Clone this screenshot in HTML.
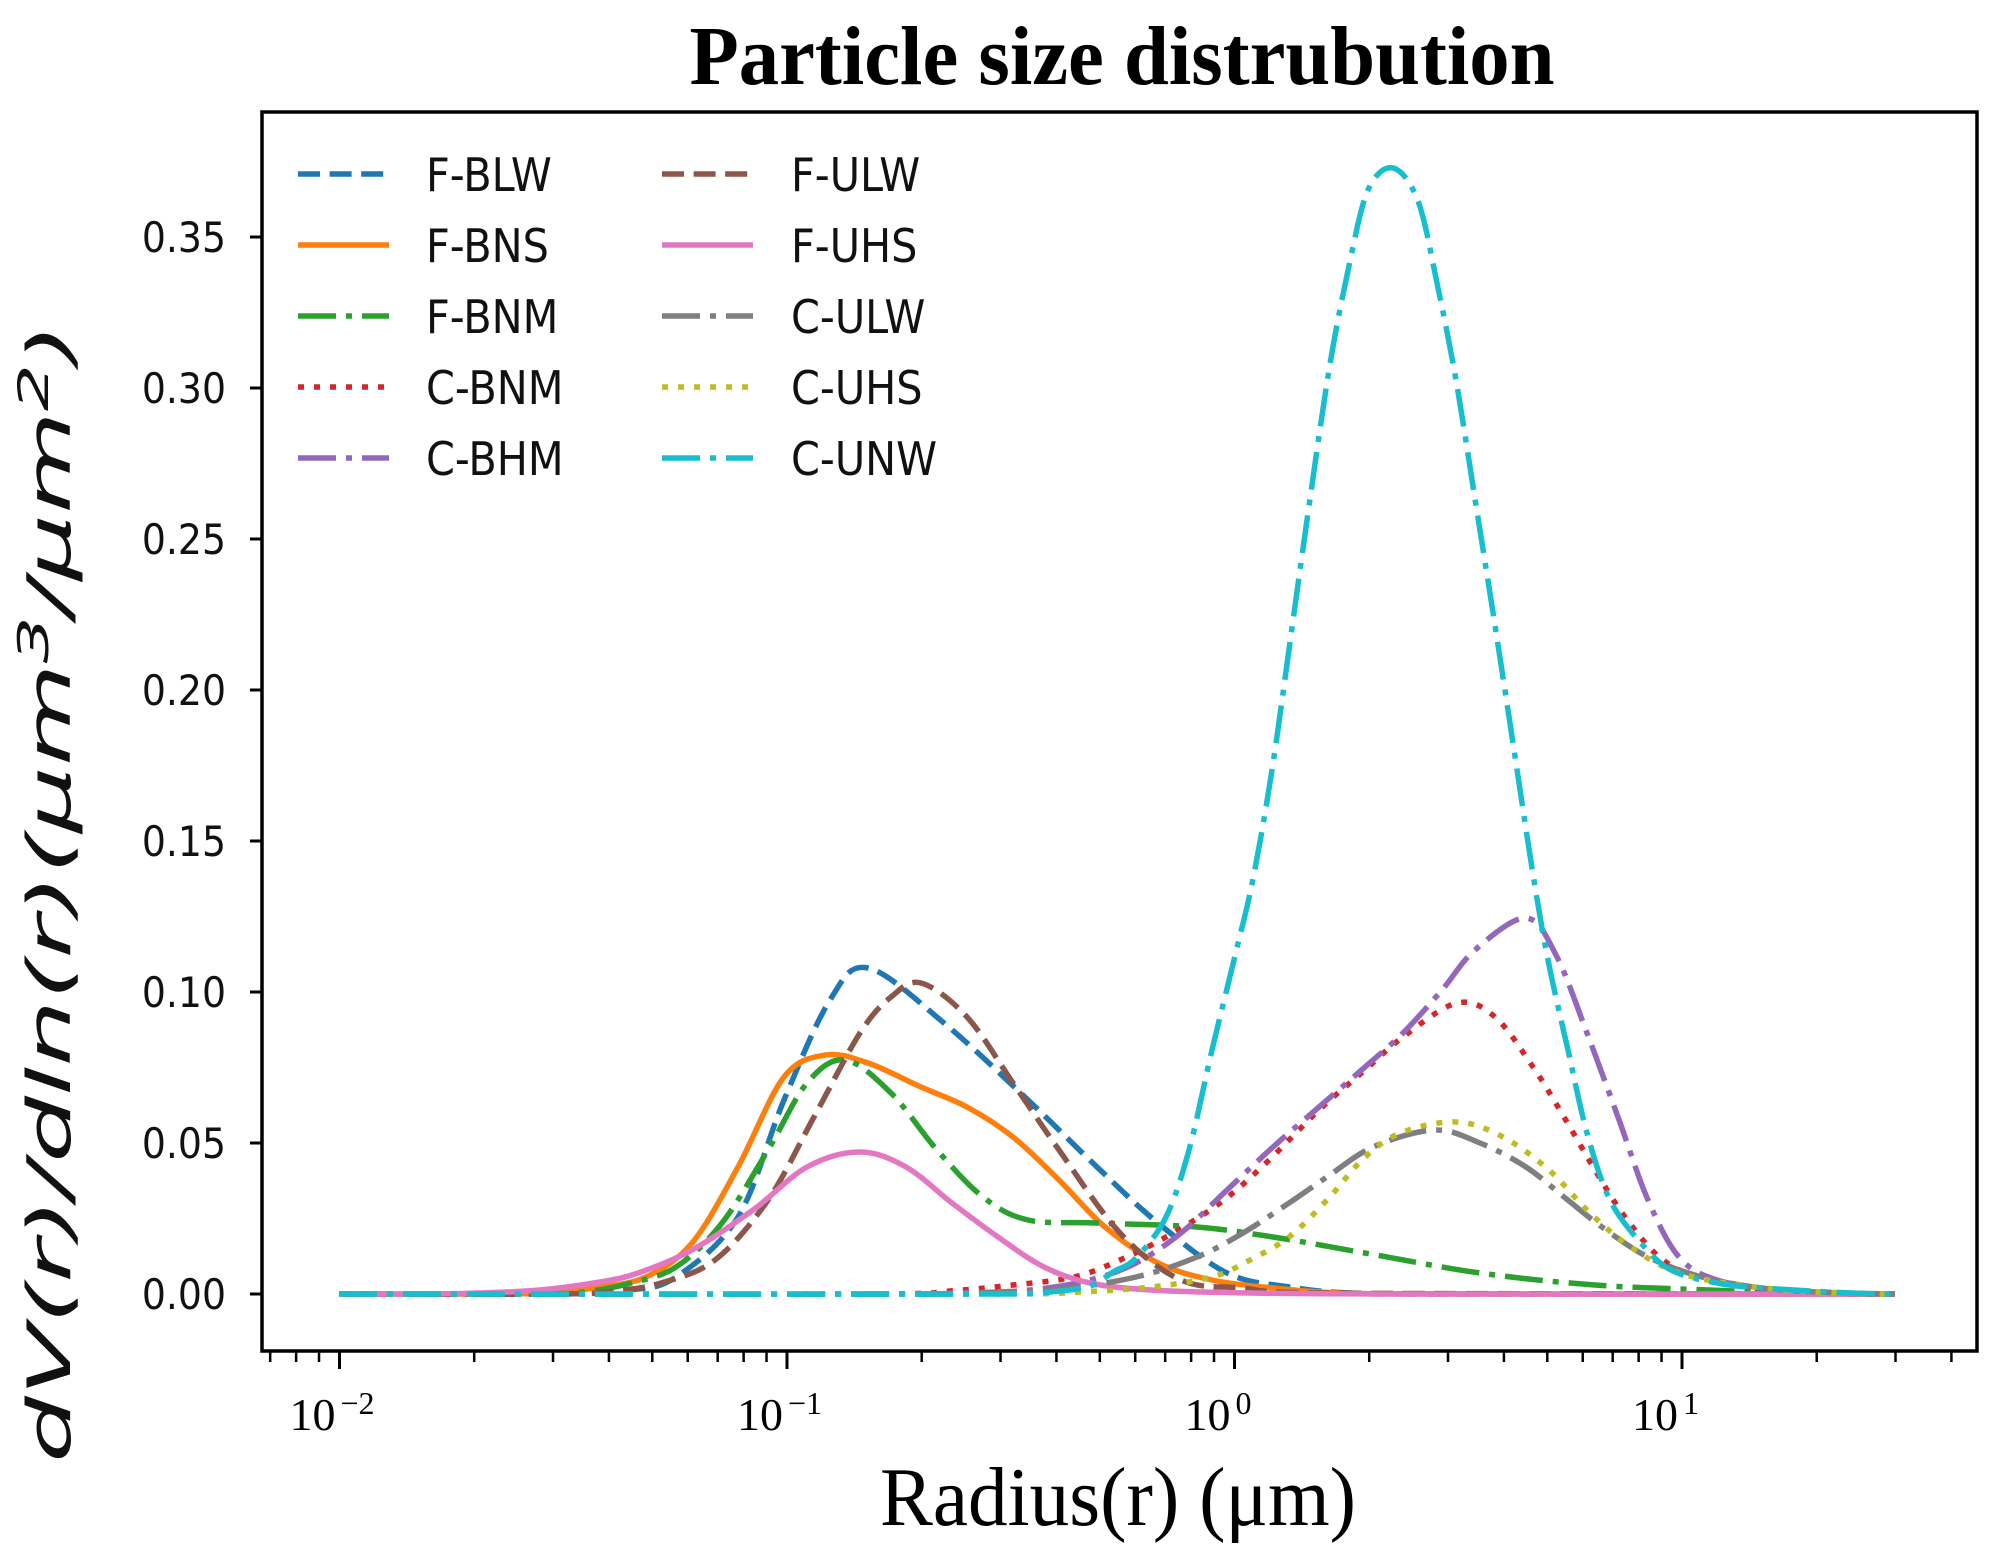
<!DOCTYPE html>
<html><head><meta charset="utf-8">
<style>
html,body{margin:0;padding:0;background:#fff;}
svg{display:block;}
.tk{font-family:"DejaVu Sans","Liberation Sans",sans-serif;font-size:42px;fill:#111;}
.lg{font-family:"DejaVu Sans","Liberation Sans",sans-serif;font-size:46px;fill:#111;}
.sf{font-family:"Liberation Serif",serif;fill:#000;}
</style></head>
<body>
<svg id="s" width="2012" height="1567" viewBox="0 0 2012 1567" xmlns="http://www.w3.org/2000/svg">
<rect width="2012" height="1567" fill="#fff"/>
<text class="sf" x="1122" y="84" font-size="84" font-weight="bold" text-anchor="middle" textLength="865" lengthAdjust="spacingAndGlyphs">Particle size distrubution</text>
<text class="sf" x="880" y="1525" font-size="84" textLength="476" lengthAdjust="spacingAndGlyphs">Radius(r) (μm)</text>
<text transform="translate(70,893) rotate(-90)" text-anchor="middle" font-family="DejaVu Sans, sans-serif" font-style="italic" font-size="60" fill="#111" textLength="1140" lengthAdjust="spacingAndGlyphs">dV(r)/dln(r)(μm<tspan dy="-22" font-size="42">3</tspan><tspan dy="22">/μm</tspan><tspan dy="-22" font-size="42">2</tspan><tspan dy="22">)</tspan></text>
<g id="curves"></g>
<g id="axes"></g>
<g id="legend"></g>
</svg>
<script>
var NS="http://www.w3.org/2000/svg";
function el(t,a,p){var e=document.createElementNS(NS,t);for(var k in a)e.setAttribute(k,a[k]);(p||document.getElementById('s')).appendChild(e);return e;}
var L=262,R=1977,T=112,B=1351,Y0=1294,X0=339.5,DEC=447.5;
var ax=document.getElementById('axes');
el('rect',{x:L,y:T,width:R-L,height:B-T,fill:'none',stroke:'#000','stroke-width':3.5},ax);
var yl=['0.00','0.05','0.10','0.15','0.20','0.25','0.30','0.35'];
for(var i=0;i<8;i++){var y=Y0-i*151;el('line',{x1:L-12,x2:L,y1:y,y2:y,stroke:'#000','stroke-width':3},ax);
var t=el('text',{'class':'tk','text-anchor':'end',transform:'translate(226,'+(y+15)+') scale(0.9,1)'},ax);t.textContent=yl[i];}
for(var d=-3;d<=1;d++){for(var m=1;m<=9;m++){var x=X0+DEC*(d+2+Math.log10(m));if(x<L+2||x>R-2)continue;
var len=m==1?18:11;el('line',{x1:x,x2:x,y1:B,y2:B+len,stroke:'#000','stroke-width':m==1?3:2.5},ax);}}
var ex=['−2','−1','0','1'];
for(var k=0;k<4;k++){var x=X0+DEC*k;var t=el('text',{'class':'sf','font-size':46,x:x-50,y:1430},ax);t.textContent='10';
var s=el('text',{'class':'sf','font-size':32,x:x+1,y:1414},ax);s.textContent=ex[k];}
var C={blue:'#1f77b4',orange:'#ff7f0e',green:'#2ca02c',red:'#d62728',purple:'#9467bd',brown:'#8c564b',pink:'#e377c2',gray:'#7f7f7f',olive:'#bcbd22',cyan:'#17becf'};
var D={dash:'22,9.6',solid:'none',dd:'38,10,6,10',dot:'6,10'};
var E=1895;
var S=[
['F-BLW',C.blue,'dash',[[339,1294],[560,1294],[630,1290],[676,1277],[738,1217],[784,1100],[830,1000],[868,968],[944,1023],[1028,1100],[1097,1167],[1158,1223],[1227,1273],[1289,1287],[1350,1293],[1450,1294],[E,1294]]],
['F-BNS',C.orange,'solid',[[339,1294],[500,1294],[560,1292],[600,1287],[646,1277],[692,1243],[738,1167],[784,1077],[826,1055],[868,1063],[921,1087],[967,1107],[1013,1137],[1059,1180],[1105,1227],[1158,1263],[1212,1280],[1273,1288],[1340,1293],[1450,1294],[E,1294]]],
['F-BNM',C.green,'dd',[[339,1294],[540,1294],[590,1291],[631,1283],[676,1267],[722,1223],[768,1150],[807,1083],[845,1060],[891,1093],[937,1150],[983,1197],[1028,1220],[1097,1223],[1197,1227],[1273,1237],[1365,1253],[1480,1273],[1595,1285],[1709,1290],[1800,1293],[E,1294]]],
['C-BNM',C.red,'dot',[[339,1294],[880,1294],[950,1291],[1013,1285],[1074,1277],[1120,1260],[1166,1237],[1220,1203],[1266,1163],[1319,1110],[1365,1070],[1403,1037],[1457,1003],[1495,1017],[1533,1067],[1564,1117],[1595,1170],[1625,1217],[1663,1260],[1709,1280],[1780,1291],[1850,1294],[E,1294]]],
['C-BHM',C.purple,'dd',[[339,1294],[900,1294],[960,1293],[1030,1290],[1090,1280],[1136,1263],[1181,1233],[1227,1190],[1273,1147],[1319,1107],[1365,1067],[1403,1033],[1442,990],[1475,950],[1526,918],[1556,955],[1587,1033],[1618,1117],[1648,1200],[1679,1257],[1717,1280],[1780,1290],[1850,1293],[E,1294]]],
['F-ULW',C.brown,'dash',[[339,1294],[560,1294],[615,1291],[661,1283],[715,1260],[768,1200],[814,1117],[860,1033],[891,997],[921,983],[967,1017],[1013,1083],[1059,1150],[1120,1233],[1181,1280],[1243,1288],[1320,1293],[E,1294]]],
['F-UHS',C.pink,'solid',[[339,1294],[420,1294],[480,1293],[540,1290],[600,1282],[638,1273],[692,1250],[753,1210],[807,1167],[860,1152],[906,1167],[952,1203],[998,1237],[1044,1267],[1090,1283],[1151,1290],[1250,1293],[1400,1294],[E,1294]]],
['C-ULW',C.gray,'dd',[[339,1294],[920,1294],[980,1293],[1060,1289],[1136,1277],[1197,1257],[1243,1233],[1289,1203],[1327,1177],[1373,1147],[1434,1130],[1480,1143],[1526,1167],[1564,1197],[1602,1227],[1648,1257],[1702,1277],[1770,1289],[1850,1293],[E,1294]]],
['C-UHS',C.olive,'dot',[[339,1294],[1000,1294],[1080,1292],[1151,1287],[1212,1277],[1250,1260],[1289,1237],[1327,1200],[1365,1157],[1403,1132],[1457,1122],[1503,1137],[1549,1170],[1587,1210],[1625,1243],[1671,1270],[1725,1283],[1800,1291],[1880,1294],[E,1294]]],
['C-UNW',C.cyan,'dd',[[339,1294],[1000,1294],[1050,1292],[1090,1286],[1113,1272],[1136,1258],[1166,1217],[1189,1150],[1212,1050],[1234,960],[1253,879],[1272,770],[1291,635],[1310,499],[1330,364],[1349,266],[1368,190],[1393,168],[1418,201],[1437,283],[1456,380],[1475,499],[1494,619],[1513,743],[1532,868],[1548,960],[1568,1050],[1587,1133],[1610,1200],[1641,1243],[1671,1270],[1717,1283],[1763,1288],[1850,1293],[E,1294]]]
];
function cr(p){var d='M'+p[0][0]+','+p[0][1];for(var i=0;i<p.length-1;i++){var p0=p[i-1]||p[i],p1=p[i],p2=p[i+1],p3=p[i+2]||p2;
var c1x=p1[0]+(p2[0]-p0[0])/6,c1y=p1[1]+(p2[1]-p0[1])/6,c2x=p2[0]-(p3[0]-p1[0])/6,c2y=p2[1]-(p3[1]-p1[1])/6;
c1x=Math.min(Math.max(c1x,p1[0]),p2[0]);c2x=Math.min(Math.max(c2x,p1[0]),p2[0]);
d+=' C'+c1x.toFixed(1)+','+c1y.toFixed(1)+' '+c2x.toFixed(1)+','+c2y.toFixed(1)+' '+p2[0]+','+p2[1];}return d;}
var cg=document.getElementById('curves');
S.forEach(function(s){el('path',{d:cr(s[3]),fill:'none',stroke:s[1],'stroke-width':5.5,'stroke-dasharray':D[s[2]],'stroke-linejoin':'round'},cg);});
var lg=document.getElementById('legend');
S.forEach(function(s,i){var col=i<5?0:1,row=i%5;var y=174+row*71;var hx=col?662:298,tx=col?791:426;
el('line',{x1:hx,x2:hx+91,y1:y,y2:y,stroke:s[1],'stroke-width':5.5,'stroke-dasharray':D[s[2]]},lg);
var t=el('text',{'class':'lg',transform:'translate('+tx+','+(y+17)+') scale(0.9,1)'},lg);t.textContent=s[0];});
</script>
</body></html>
